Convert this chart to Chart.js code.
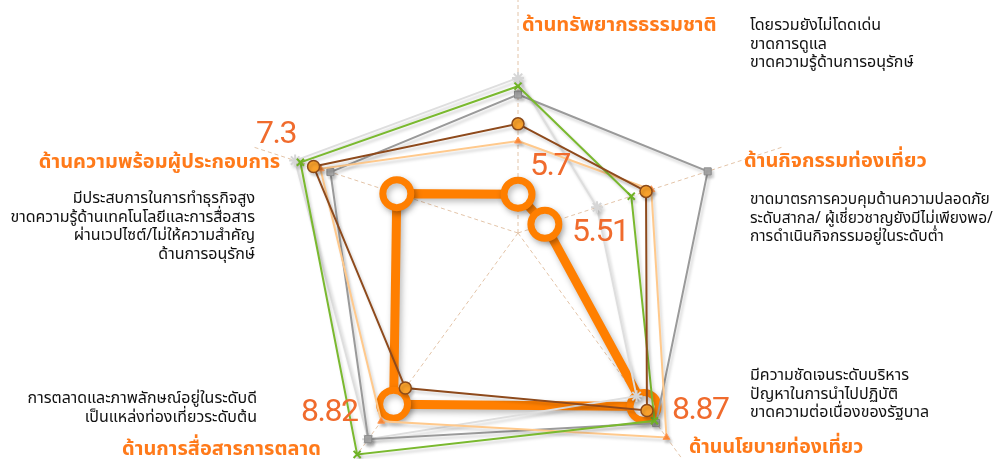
<!DOCTYPE html>
<html>
<head>
<meta charset="utf-8">
<title>Radar</title>
<script src="https://cdn.jsdelivr.net/npm/chart.js"></script>
<style>
  body { margin: 0; background: #fff; font-family: "Noto Sans Thai", "Noto Sans", "DejaVu Sans", sans-serif; }
  #wrap { position: relative; width: 1008px; height: 459px; overflow: hidden; background: #fff; }
  #radar { position: absolute; left: 0; top: -67px; }
  .cat { position: absolute; color: #ff7a1a; font-size: 20px; font-weight: bold; line-height: 20px; white-space: nowrap; }
  .note { position: absolute; color: #111; font-size: 16px; line-height: 18.5px; white-space: nowrap; }
  .note.r { text-align: right; }
  .val { position: absolute; color: #f06b2d; font-family: Roboto, sans-serif; font-size: 32px; line-height: 32px; letter-spacing: -1.5px; white-space: nowrap; }
</style>
</head>
<body>
<div id="wrap">
  <canvas id="radar" width="1008" height="600"></canvas>

  <div class="cat" style="left:522px; top:15px;">ด้านทรัพยากรธรรมชาติ</div>
  <div class="cat" style="left:744px; top:151px;">ด้านกิจกรรมท่องเที่ยว</div>
  <div class="cat" style="left:689px; top:437px; font-size:19.5px;">ด้านนโยบายท่องเที่ยว</div>
  <div class="cat" style="left:122px; top:439px;">ด้านการสื่อสารการตลาด</div>
  <div class="cat" style="right:728px; top:152px;">ด้านความพร้อมผู้ประกอบการ</div>

  <div class="note" style="left:750px; top:16px;">โดยรวมยังไม่โดดเด่น<br>ขาดการดูแล<br>ขาดความรู้ด้านการอนุรักษ์</div>
  <div class="note" style="left:750px; top:191px; font-size:15.5px;">ขาดมาตรการควบคุมด้านความปลอดภัย<br>ระดับสากล/ ผู้เชี่ยวชาญยังมีไม่เพียงพอ/<br>การดำเนินกิจกรรมอยู่ในระดับต่ำ</div>
  <div class="note" style="left:750px; top:366px;">มีความชัดเจนระดับบริหาร<br>ปัญหาในการนำไปปฏิบัติ<br>ขาดความต่อเนื่องของรัฐบาล</div>
  <div class="note r" style="right:753px; top:189px;">มีประสบการในการทำธุรกิจสูง<br>ขาดความรู้ด้านเทคโนโลยีและการสื่อสาร<br>ผ่านเวปไซต์/ไม่ให้ความสำคัญ<br>ด้านการอนุรักษ์</div>
  <div class="note r" style="right:751px; top:389px;">การตลาดและภาพลักษณ์อยู่ในระดับดี<br>เป็นแหล่งท่องเที่ยวระดับต้น</div>
</div>

<script>
// axes, clockwise from the top
const categories = ['ด้านทรัพยากรธรรมชาติ', 'ด้านกิจกรรมท่องเที่ยว', 'ด้านนโยบายท่องเที่ยว', 'ด้านการสื่อสารการตลาด', 'ด้านความพร้อมผู้ประกอบการ'];

// highlighted series (thick orange)
const mainValues = [5.7, 5.51, 8.87, 8.82, 7.3];

// comparison series
const grayValues = [7.5, 8.6, 9.24, 9.6, 8.56];
const greenValues = [7.65, 7.15, 9.19, 9.94, 9.13];
const brownValues = [6.97, 7.43, 8.96, 8.46, 8.88];
const lightOrangeValues = [6.66, 7.53, 9.56, 9.2, 8.75];
const lightGrayValues = [7.8, 6.5, 8.64, 9.6, 9.23];

const scaleMin = 5;
const scaleMax = 10;

// where the value labels of the main series sit
const valueLabelPos = [
    { left: 530, top: 148 },
    { left: 572, top: 214 },
    { left: 672, top: 392 },
    { left: 301, top: 394 },
    { left: 256, top: 116 }
];

mainValues.forEach((v, i) => {
    const d = document.createElement('div');
    d.className = 'val';
    d.style.left = valueLabelPos[i].left + 'px';
    d.style.top = valueLabelPos[i].top + 'px';
    d.textContent = String(v);
    document.getElementById('wrap').appendChild(d);
});

const shadowPlugin = {
    id: 'shadow',
    beforeDatasetDraw(chart, args) {
        const ctx = chart.ctx;
        ctx.save();
        const big = args.index === 0;
        ctx.shadowColor = big ? 'rgba(0,0,0,0.28)' : 'rgba(0,0,0,0.18)';
        ctx.shadowBlur = big ? 6 : 3;
        ctx.shadowOffsetX = 2;
        ctx.shadowOffsetY = 3;
    },
    afterDatasetDraw(chart) {
        chart.ctx.restore();
    }
};

new Chart(document.getElementById('radar').getContext('2d'), {
    type: 'radar',
    data: {
        labels: categories,
        datasets: [
            {
                label: 'main', data: mainValues, order: 6,
                borderColor: '#ff7f00', borderWidth: 9,
                pointRadius: 14, pointBorderWidth: 7, pointBackgroundColor: '#ffffff', pointBorderColor: '#ff7f00'
            },
            {
                label: 'light gray', data: lightGrayValues, order: 5,
                borderColor: '#dedede', borderWidth: 2,
                pointStyle: 'star', pointRadius: 6, pointBorderWidth: 2, pointBorderColor: '#d6d6d6', pointBackgroundColor: '#e8e8e8'
            },
            {
                label: 'gray', data: grayValues, order: 4,
                borderColor: '#9a9a9a', borderWidth: 2,
                pointStyle: 'rect', pointRadius: 5, pointBorderWidth: 1, pointBorderColor: '#8c8c8c', pointBackgroundColor: '#a8a8a8'
            },
            {
                label: 'light orange', data: lightOrangeValues, order: 3,
                borderColor: '#ffc98c', borderWidth: 2,
                pointStyle: 'triangle', pointRadius: 4, pointBorderWidth: 1, pointBorderColor: '#ff9a55', pointBackgroundColor: '#ff8c3a'
            },
            {
                label: 'green', data: greenValues, order: 2,
                borderColor: '#7ab92f', borderWidth: 2,
                pointStyle: 'crossRot', pointRadius: 5, pointBorderWidth: 2, pointBorderColor: '#6eb224'
            },
            {
                label: 'brown', data: brownValues, order: 1,
                borderColor: '#8e4a1c', borderWidth: 2,
                pointStyle: 'circle', pointRadius: 6, pointBorderWidth: 1.5, pointBorderColor: '#8a4a1a', pointBackgroundColor: '#f8a12c'
            }
        ]
    },
    options: {
        responsive: false,
        animation: false,
        layout: { padding: { left: 28, right: 0, top: 23, bottom: 23 } },
        elements: { line: { tension: 0, fill: false } },
        plugins: { legend: { display: false }, tooltip: { enabled: false } },
        scales: {
            r: {
                min: scaleMin,
                max: scaleMax,
                ticks: { display: false },
                grid: { display: false },
                pointLabels: { display: false },
                angleLines: { color: '#e3c4a8', lineWidth: 1, borderDash: [4, 3] }
            }
        }
    },
    plugins: [shadowPlugin]
});
</script>
</body>
</html>
